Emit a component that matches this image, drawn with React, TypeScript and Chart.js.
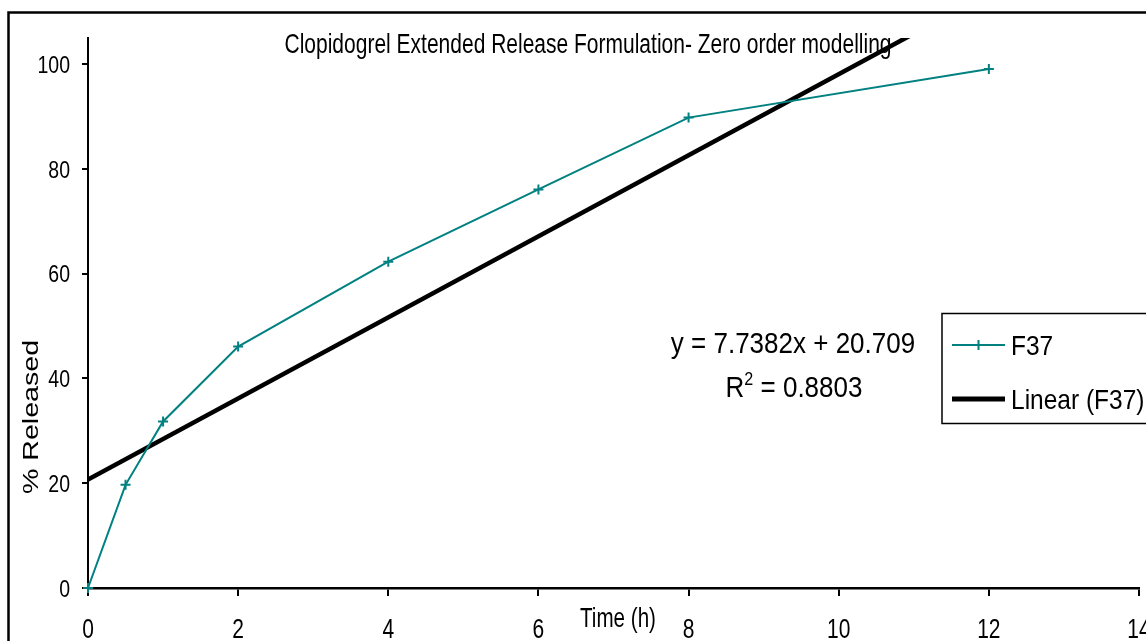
import React, { useEffect, useRef } from "react";
import { Chart, registerables } from "chart.js";

Chart.register(...registerables);

// ---- data ----
const timeHours = [0, 0.5, 1, 2, 4, 6, 8, 12];
const releasedF37 = [0, 19.7, 31.8, 46.1, 62.3, 76.1, 89.8, 99.1];
const trendSlope = 7.7382;
const trendIntercept = 20.709;
const trendRange = [0, 14];
const xTickStep = 2;
const yTickStep = 20;
const xMin = 0;
const xMax = 14;
const yMin = 0;
const yMax = 105;

const chartTitle = "Clopidogrel Extended Release Formulation- Zero order modelling";
const xAxisTitle = "Time (h)";
const yAxisTitle = "% Released";
const seriesLabel = "F37";
const trendLabel = "Linear (F37)";
const equationText = "y = 7.7382x + 20.709";
const r2Text = "0.8803";

const TEAL = "#008080";
const FONT = '"Liberation Sans", Arial, sans-serif';

function drawText(
  ctx: CanvasRenderingContext2D,
  text: string,
  x: number,
  baseline: number,
  size: number,
  sy: number,
  align: CanvasTextAlign
) {
  ctx.save();
  ctx.translate(x, baseline);
  ctx.scale(1, sy);
  ctx.font = `${size}px ${FONT}`;
  ctx.textAlign = align;
  ctx.textBaseline = "alphabetic";
  ctx.fillStyle = "#000";
  ctx.fillText(text, 0, 0);
  ctx.restore();
}

const decorPlugin = {
  id: "decor",
  beforeDraw(chart: any) {
    const ctx: CanvasRenderingContext2D = chart.ctx;
    ctx.save();
    ctx.fillStyle = "#fff";
    ctx.fillRect(0, 0, chart.width, chart.height);
    ctx.strokeStyle = "#000";
    ctx.lineWidth = 2.5;
    ctx.strokeRect(8.5, 12.5, 3000, 3000);
    ctx.restore();
  },
  afterDraw(chart: any) {
    const ctx: CanvasRenderingContext2D = chart.ctx;
    const xs = chart.scales.x;
    const ys = chart.scales.y;

    // y tick labels
    const yF = 19.5, ySy = 1.24;
    const yCap = 0.716 * yF * ySy;
    ys.ticks.forEach((t: any) => {
      const py = ys.getPixelForValue(t.value);
      drawText(ctx, String(t.value), 70, py + yCap / 2, yF, ySy, "right");
    });
    // x tick labels
    xs.ticks.forEach((t: any) => {
      const px = xs.getPixelForValue(t.value);
      drawText(ctx, String(t.value), px, 638, 21, 1.3, "center");
    });

    // title
    drawText(ctx, chartTitle, 588, 53, 21, 1.3, "center");
    // x title
    drawText(ctx, xAxisTitle, 618, 627, 20.6, 1.3, "center");
    // y title (rotated)
    ctx.save();
    ctx.translate(38, 417);
    ctx.scale(1, 1.3);
    ctx.rotate(-Math.PI / 2);
    ctx.font = `22px ${FONT}`;
    ctx.textAlign = "center";
    ctx.textBaseline = "alphabetic";
    ctx.fillStyle = "#000";
    ctx.fillText(yAxisTitle, 0, 0);
    ctx.restore();

    // equation
    const eF = 26, eSy = 1.13;
    drawText(ctx, equationText, 793, 352.5, eF, eSy, "center");
    // R^2 line
    ctx.save();
    ctx.font = `${eF}px ${FONT}`;
    const wR = ctx.measureText("R").width;
    const wRest = ctx.measureText(" = " + r2Text).width;
    ctx.font = `${eF * 0.62}px ${FONT}`;
    const wSup = ctx.measureText("2").width;
    ctx.restore();
    const total = wR + wSup + wRest;
    const sx = 794 - total / 2;
    drawText(ctx, "R", sx, 396.5, eF, eSy, "left");
    drawText(ctx, "2", sx + wR, 385, eF * 0.62, eSy, "left");
    drawText(ctx, " = " + r2Text, sx + wR + wSup, 396.5, eF, eSy, "left");

    // legend box
    ctx.save();
    ctx.strokeStyle = "#000";
    ctx.lineWidth = 1.5;
    ctx.strokeRect(942, 313.5, 400, 110);
    // entry 1
    ctx.strokeStyle = TEAL;
    ctx.lineWidth = 2;
    ctx.beginPath();
    ctx.moveTo(952, 345);
    ctx.lineTo(1005, 345);
    ctx.moveTo(978.5, 340);
    ctx.lineTo(978.5, 350);
    ctx.stroke();
    // entry 2
    ctx.strokeStyle = "#000";
    ctx.lineWidth = 5;
    ctx.beginPath();
    ctx.moveTo(952, 399);
    ctx.lineTo(1005, 399);
    ctx.stroke();
    ctx.restore();
    const lF = 24.5, lSy = 1.15;
    const lCap = 0.716 * lF * lSy;
    drawText(ctx, seriesLabel, 1011, 345 + lCap / 2, lF, lSy, "left");
    drawText(ctx, trendLabel, 1011, 399 + lCap / 2, lF, lSy, "left");
  },
};

export default function App() {
  const canvasRef = useRef<HTMLCanvasElement | null>(null);

  useEffect(() => {
    const canvas = canvasRef.current;
    if (!canvas) return;
    const f37Points = timeHours.map((t, i) => ({ x: t, y: releasedF37[i] }));
    const trendPoints = trendRange.map((t) => ({ x: t, y: trendSlope * t + trendIntercept }));

    const chart = new Chart(canvas, {
      type: "scatter",
      data: {
        datasets: [
          {
            label: trendLabel,
            data: trendPoints,
            showLine: true,
            borderColor: "#000",
            borderWidth: 4.5,
            pointRadius: 0,
            clip: 0,
            order: 2,
          } as any,
          {
            label: seriesLabel,
            data: f37Points,
            showLine: true,
            borderColor: TEAL,
            backgroundColor: TEAL,
            borderWidth: 2,
            pointStyle: "cross",
            pointRadius: 5,
            pointBorderWidth: 2,
            pointBorderColor: TEAL,
            clip: false,
            order: 1,
          } as any,
        ],
      },
      options: {
        animation: false,
        responsive: false,
        devicePixelRatio: 1,
        layout: { padding: { top: 38, right: 2, left: 0, bottom: 0 } },
        plugins: {
          legend: { display: false },
          title: { display: false },
          tooltip: { enabled: false },
        },
        scales: {
          x: {
            type: "linear",
            min: xMin,
            max: xMax,
            ticks: { stepSize: xTickStep, display: false },
            grid: {
              drawOnChartArea: false,
              drawTicks: true,
              tickLength: 8,
              color: "#000",
              lineWidth: 2,
            },
            border: { display: true, color: "#000", width: 2.5 },
            afterFit: (s: any) => {
              s.height = 53;
              s.paddingLeft = 0;
              s.paddingRight = 0;
            },
          },
          y: {
            type: "linear",
            min: yMin,
            max: yMax,
            ticks: { stepSize: yTickStep, display: false },
            afterBuildTicks: (s: any) => {
              s.ticks = s.ticks.filter((t: any) => t.value % yTickStep === 0);
            },
            grid: {
              drawOnChartArea: false,
              drawTicks: true,
              tickLength: 6,
              color: "#000",
              lineWidth: 2,
            },
            border: { display: true, color: "#000", width: 2 },
            afterFit: (s: any) => {
              s.width = 88;
              s.paddingTop = 0;
              s.paddingBottom = 0;
            },
          },
        },
      } as any,
      plugins: [decorPlugin],
    });
    return () => chart.destroy();
  }, []);

  return (
    <div style={{ position: "fixed", left: 0, top: 0, width: 1146, height: 641, background: "#fff" }}>
      <canvas ref={canvasRef} width={1146} height={641} style={{ display: "block" }} />
    </div>
  );
}
